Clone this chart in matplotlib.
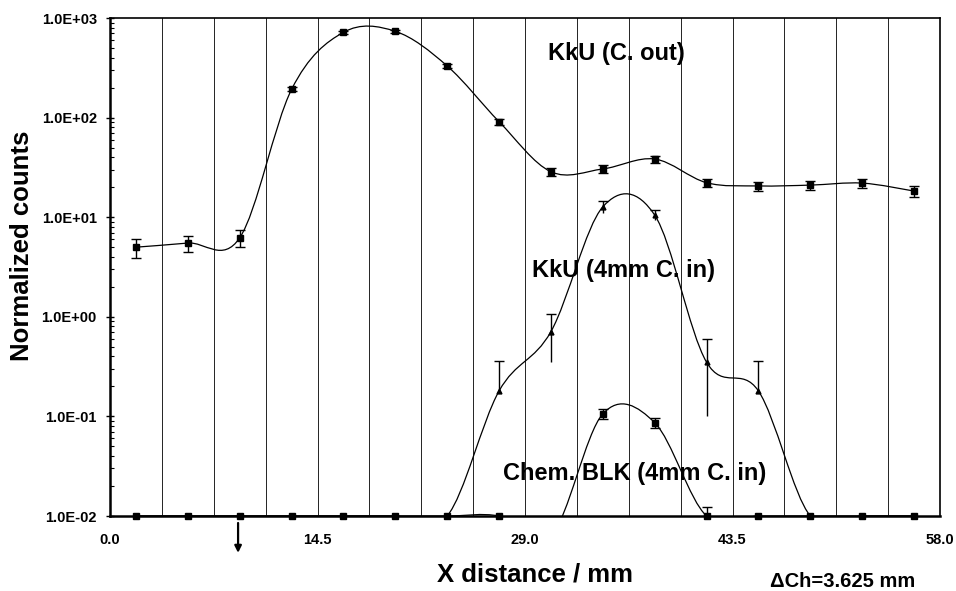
import numpy as np
import matplotlib
matplotlib.use('Agg')
import matplotlib.pyplot as plt
from matplotlib.path import Path
from matplotlib.patches import PathPatch
from matplotlib.ticker import FuncFormatter, LogLocator, NullFormatter

plt.rcParams['font.family'] = ['Liberation Sans', 'DejaVu Sans']
plt.rcParams['font.weight'] = 'bold'

# channel width and channel centres (mm)
ch_width = 3.625
x_mm = np.arange(16) * ch_width + ch_width / 2

# KkU, collimator out
c_out = [5.0, 5.5, 6.2, 192, 718, 735, 330, 91, 28.6, 30.5, 38.4, 22.2, 20.6, 21.0, 22.0, 18.3]
c_out_err = [1.1, 1.05, 1.2, 9, 31, 31, 15, 6, 2.8, 2.6, 3.2, 2.0, 2.1, 2.1, 2.2, 2.2]

# KkU, 4mm collimator in
c_in = [0.01, 0.01, 0.01, 0.01, 0.01, 0.01, 0.01, 0.18, 0.71, 12.7, 10.5, 0.35, 0.18, 0.01, 0.01, 0.01]
c_in_err = [0, 0, 0, 0, 0, 0, 0, 0.18, 0.36, 1.8, 1.2, 0.25, 0.18, 0, 0, 0]

# chemical blank, 4mm collimator in
blk = [0.01, 0.01, 0.01, 0.01, 0.01, 0.01, 0.01, 0.01, 0.0063, 0.106, 0.0865, 0.01, 0.01, 0.01, 0.01, 0.01]
blk_err = [0, 0, 0, 0, 0, 0, 0, 0, 0, 0.012, 0.0095, 0.0022, 0, 0, 0, 0]

x_ticks = [0.0, 14.5, 29.0, 43.5, 58.0]
y_min, y_max = 1e-2, 1e3


def smooth_path(x, y):
    # Excel-like smoothed line: Bezier segments built in (x, log y) space
    x = np.asarray(x, float)
    ly = np.log10(np.asarray(y, float))
    px = np.r_[x[0], x, x[-1]]
    py = np.r_[ly[0], ly, ly[-1]]
    verts = [(x[0], 10 ** ly[0])]
    codes = [Path.MOVETO]
    for i in range(1, len(x)):
        c1x = px[i] + (px[i + 1] - px[i - 1]) / 6
        c1y = py[i] + (py[i + 1] - py[i - 1]) / 6
        c2x = px[i + 1] - (px[i + 2] - px[i]) / 6
        c2y = py[i + 1] - (py[i + 2] - py[i]) / 6
        verts += [(c1x, 10 ** c1y), (c2x, 10 ** c2y), (px[i + 1], 10 ** py[i + 1])]
        codes += [Path.CURVE4] * 3
    return Path(verts, codes)


def draw_series(ax, y, err, marker, ms, low_caps=True, z=5):
    y = np.asarray(y, float)
    err = np.asarray(err, float)
    ax.add_patch(PathPatch(smooth_path(x_mm, y), fill=False, edgecolor='k', lw=0.9, zorder=3))
    m = err > 0
    lo = np.where(y - err > 0, err, 0)
    ax.vlines(x_mm[m], (y - lo)[m], (y + err)[m], color='k', lw=1.0, zorder=4)
    ax.plot(x_mm[m], (y + err)[m], '_', color='k', ms=7, mew=1.0, zorder=4)
    if low_caps:
        ml = m & (lo > 0)
        ax.plot(x_mm[ml], (y - lo)[ml], '_', color='k', ms=7, mew=1.0, zorder=4)
    keep = y >= y_min
    ax.plot(x_mm[keep], y[keep], marker, color='k', ms=ms, ls='none', zorder=z, clip_on=False)


fig = plt.figure(figsize=(9.56, 5.91), dpi=100)
ax = fig.add_axes([110 / 956, 1 - 516 / 591, 830 / 956, 498 / 591])

draw_series(ax, c_out, c_out_err, 's', 4)
draw_series(ax, c_in, c_in_err, '^', 3.5, low_caps=False, z=5)
draw_series(ax, blk, blk_err, 's', 4, z=6)

ax.set_yscale('log')
ax.set_xlim(0, 58)
ax.set_ylim(y_min, y_max)

ax.set_xticks(x_ticks)
ax.set_xticks(np.arange(0, 58.01, ch_width), minor=True)
ax.xaxis.set_major_formatter(FuncFormatter(lambda v, _: f'{v:.1f}'))
ax.grid(True, which='both', axis='x', color='k', lw=0.6, zorder=1)
ax.tick_params(axis='x', which='both', length=0, pad=12, labelsize=10.5)

ax.yaxis.set_major_locator(LogLocator(base=10, numticks=10))
ax.yaxis.set_minor_locator(LogLocator(base=10, subs=np.arange(2, 10), numticks=20))
ax.yaxis.set_major_formatter(FuncFormatter(lambda v, _: f'{v:.1E}'))
ax.yaxis.set_minor_formatter(NullFormatter())
ax.tick_params(axis='y', which='major', direction='inout', length=6, width=1, pad=6.5, labelsize=10.5)
ax.tick_params(axis='y', which='minor', direction='in', length=3, width=0.8)

for side in ['top', 'right']:
    ax.spines[side].set_linewidth(1.2)
for side in ['left', 'bottom']:
    ax.spines[side].set_linewidth(1.8)

ax.text(0.610, 0.9157, 'KkU (C. out)', transform=ax.transAxes, ha='center', va='baseline', fontsize=17)
ax.text(0.6187, 0.48, 'KkU (4mm C. in)', transform=ax.transAxes, ha='center', va='baseline', fontsize=17)
ax.text(0.632, 0.0723, 'Chem. BLK (4mm C. in)', transform=ax.transAxes, ha='center', va='baseline', fontsize=17)

# arrow under the axis
ax.annotate('', xy=(8.95, -0.074), xytext=(8.95, -0.014),
            xycoords=('data', 'axes fraction'), textcoords=('data', 'axes fraction'),
            arrowprops=dict(arrowstyle='-|>', color='k', lw=1.6, mutation_scale=10,
                            shrinkA=0, shrinkB=0),
            annotation_clip=False)

fig.text(22 / 956, 1 - 246 / 591, 'Normalized counts', rotation=90, ha='center', va='center', fontsize=18.5)
fig.text(535 / 956, 1 - 582 / 591, 'X distance / mm', ha='center', va='baseline', fontsize=18.5)
fig.text(843 / 956, 1 - 587 / 591, 'ΔCh=3.625 mm', ha='center', va='baseline', fontsize=14.5)

fig.savefig('out.png', dpi=100)
